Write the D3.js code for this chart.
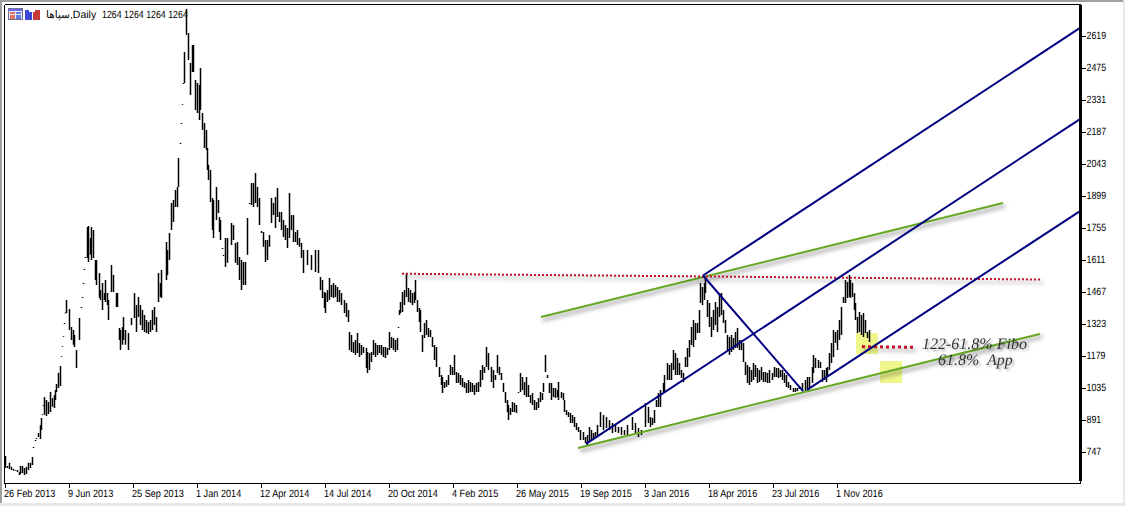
<!DOCTYPE html>
<html lang="en">

<head>
  <meta charset="UTF-8">
  <title>سپاها,Daily</title>
  <script src="https://cdn.jsdelivr.net/npm/d3@7"></script>
  <style>
    html, body { margin: 0; padding: 0; background: #fff; overflow: hidden; }
    text { font-family: "Liberation Sans", sans-serif; font-size: 10.5px; fill: #000; text-rendering: geometricPrecision; }
    .note { font-family: "Liberation Serif", serif; font-style: italic; font-size: 16px; fill: #333; }
  </style>
</head>

<body>
  <svg width="1125" height="506"></svg>

  <script>
    const dateLabels = ["26 Feb 2013", "9 Jun 2013", "25 Sep 2013", "1 Jan 2014", "12 Apr 2014", "14 Jul 2014", "20 Oct 2014",
      "4 Feb 2015", "26 May 2015", "19 Sep 2015", "3 Jan 2016", "18 Apr 2016", "23 Jul 2016", "1 Nov 2016"];
    const barsPerLabel = 64;
    const priceTicks = [747, 891, 1035, 1179, 1323, 1467, 1611, 1755, 1899, 2043, 2187, 2331, 2475, 2619];

    // bar number (counted from 26 Feb 2013), high and low
    const barIndex = [
      1, 3, 5, 7, 9, 11, 13, 15, 16, 18, 20, 22, 24, 26, 28, 29, 31, 32, 34, 36,
      37, 38, 39, 40, 42, 44, 46, 48, 50, 51, 52, 54, 56, 57, 58, 59, 60, 61, 62, 65,
      67, 69, 70, 72, 75, 77, 78, 79, 80, 81, 83, 84, 86, 87, 89, 91, 92, 95, 96, 98,
      100, 101, 103, 104, 107, 109, 112, 113, 115, 116, 118, 119, 121, 124, 127, 130, 132, 134, 136, 138,
      140, 142, 144, 146, 148, 150, 152, 154, 156, 157, 162, 163, 165, 167, 169, 171, 173, 174, 176, 177,
      178, 179, 180, 182, 184, 186, 188, 189, 191, 193, 195, 196, 198, 200, 202, 203, 204, 206, 208, 209,
      212, 214, 215, 216, 218, 219, 221, 223, 227, 229, 231, 233, 235, 237, 239, 241, 243, 245, 247, 249,
      251, 253, 255, 257, 259, 261, 263, 265, 267, 269, 271, 273, 275, 277, 279, 281, 283, 285, 287, 289,
      291, 293, 295, 297, 299, 303, 307, 311, 314, 316, 318, 320, 321, 323, 325, 327, 329, 331, 333, 335,
      337, 340, 342, 344, 345, 347, 349, 351, 353, 355, 357, 359, 362, 363, 365, 367, 369, 371, 373, 375,
      377, 379, 381, 383, 385, 387, 389, 391, 393, 394, 395, 396, 398, 400, 402, 404, 406, 408, 410, 411,
      413, 415, 416, 418, 420, 422, 424, 426, 428, 430, 432, 435, 437, 438, 440, 442, 444, 446, 448, 450,
      452, 454, 456, 458, 460, 462, 464, 466, 468, 470, 472, 474, 476, 478, 480, 482, 484, 487, 489, 491,
      493, 495, 497, 499, 501, 503, 504, 506, 508, 510, 512, 514, 516, 518, 520, 522, 524, 526, 528, 530,
      532, 534, 536, 538, 539, 541, 543, 545, 547, 549, 551, 553, 554, 557, 559, 560, 562, 564, 566, 568,
      570, 572, 574, 576, 579, 581, 583, 585, 587, 589, 591, 593, 596, 599, 602, 605, 608, 611, 614, 617,
      620, 623, 628, 631, 634, 637, 641, 644, 646, 648, 650, 652, 654, 656, 659, 660, 663, 665, 667, 669,
      671, 673, 675, 677, 679, 681, 683, 685, 687, 689, 691, 693, 695, 696, 698, 700, 701, 703, 705, 707,
      709, 711, 713, 715, 717, 719, 721, 723, 725, 727, 729, 731, 733, 735, 737, 739, 741, 743, 745, 747,
      749, 751, 753, 755, 757, 759, 761, 763, 765, 768, 770, 772, 774, 776, 778, 780, 782, 784, 786, 789,
      791, 793, 795, 798, 801, 803, 805, 808, 809, 811, 814, 816, 818, 820, 822, 823, 825, 827, 829, 831,
      833, 835, 837, 839, 841, 843, 845, 846, 848, 850, 851, 853, 855, 857, 859, 861, 863, 865
    ];
    const barHigh = [
      727, 682, 696, 678, 668, 664, 664, 655, 682, 682, 673, 678, 696, 696, 722, 767, 799, 808, 830, 866,
      898, 916, 956, 992, 979, 970, 1015, 988, 1001, 1024, 1051, 1101, 1132, 1177, 1222, 1267, 1325, 1372, 1429, 1388,
      1307, 1294, 1271, 1204, 1348, 1397, 1442, 1505, 1568, 1622, 1757, 1762, 1708, 1757, 1744, 1609, 1609, 1550, 1474, 1505,
      1460, 1519, 1460, 1429, 1586, 1541, 1460, 1460, 1303, 1294, 1307, 1352, 1294, 1280, 1348, 1460, 1406, 1442, 1406, 1384,
      1361, 1339, 1330, 1339, 1384, 1397, 1352, 1550, 1505, 1564, 1690, 1654, 1730, 1865, 1879, 1924, 1937, 2068, 2135, 2225,
      2311, 2405, 2545, 2738, 2630, 2495, 2576, 2576, 2419, 2405, 2396, 2473, 2270, 2225, 2194, 2113, 2037, 2014, 1888, 1879,
      1937, 1879, 1802, 1789, 1663, 1631, 1708, 1708, 1775, 1766, 1685, 1690, 1622, 1609, 1600, 1600, 1798, 1865, 1955, 1955,
      2000, 1937, 1888, 1739, 1735, 1699, 1699, 1721, 1888, 1865, 1892, 1933, 1825, 1825, 1789, 1766, 1753, 1910, 1811, 1811,
      1735, 1744, 1708, 1685, 1654, 1654, 1631, 1654, 1654, 1532, 1519, 1465, 1460, 1474, 1528, 1496, 1505, 1496, 1487, 1474,
      1460, 1429, 1415, 1384, 1285, 1271, 1240, 1249, 1280, 1235, 1226, 1217, 1213, 1195, 1190, 1195, 1249, 1235, 1226, 1226,
      1226, 1217, 1217, 1213, 1285, 1262, 1258, 1249, 1258, 1307, 1384, 1420, 1465, 1474, 1550, 1483, 1474, 1460, 1465, 1519,
      1429, 1393, 1384, 1271, 1325, 1339, 1303, 1294, 1262, 1226, 1217, 1127, 1091, 1082, 1060, 1069, 1091, 1136, 1127, 1181,
      1105, 1100, 1091, 1078, 1060, 1055, 1069, 1060, 1055, 1046, 1055, 1060, 1114, 1136, 1127, 1217, 1190, 1127, 1114, 1091,
      1181, 1127, 1100, 1055, 1015, 979, 956, 943, 970, 965, 956, 1015, 1100, 1082, 1060, 1082, 1046, 1001, 1010, 979,
      970, 988, 1015, 1010, 1055, 1181, 1091, 1055, 1055, 1033, 1033, 1024, 1060, 1015, 1010, 979, 934, 925, 920, 911,
      902, 875, 857, 844, 835, 812, 821, 857, 844, 830, 835, 866, 925, 911, 902, 889, 875, 866, 857, 857,
      844, 866, 902, 875, 853, 844, 965, 947, 902, 898, 934, 979, 1010, 1024, 1055, 1091, 1145, 1136, 1145, 1204,
      1190, 1168, 1145, 1114, 1100, 1172, 1213, 1249, 1307, 1339, 1325, 1325, 1384, 1505, 1487, 1505, 1528, 1429, 1415, 1352,
      1384, 1420, 1397, 1460, 1460, 1384, 1339, 1271, 1262, 1271, 1258, 1285, 1303, 1249, 1249, 1235, 1150, 1136, 1127, 1114,
      1145, 1136, 1123, 1114, 1127, 1105, 1105, 1100, 1114, 1100, 1127, 1123, 1123, 1114, 1114, 1100, 1091, 1060, 1046, 1033,
      1033, 1033, 1042, 1055, 1069, 1082, 1082, 1127, 1181, 1168, 1159, 1150, 1114, 1114, 1123, 1127, 1190, 1235, 1294, 1285,
      1294, 1339, 1397, 1442, 1519, 1510, 1541, 1519, 1505, 1460, 1415, 1352, 1375, 1361, 1370, 1339, 1285, 1294
    ];
    const barLow = [
      673, 673, 668, 664, 660, 660, 655, 641, 646, 650, 641, 646, 664, 673, 686, 763, 794, 803, 812, 803,
      844, 912, 952, 912, 907, 916, 925, 948, 943, 979, 1015, 1033, 1042, 1173, 1218, 1263, 1321, 1368, 1370, 1294,
      1249, 1227, 1217, 1123, 1249, 1393, 1438, 1501, 1564, 1618, 1618, 1600, 1632, 1609, 1618, 1519, 1496, 1438, 1429, 1384,
      1429, 1420, 1406, 1339, 1465, 1465, 1397, 1397, 1249, 1204, 1227, 1249, 1227, 1204, 1316, 1348, 1285, 1352, 1316, 1294,
      1285, 1280, 1276, 1285, 1294, 1316, 1285, 1420, 1442, 1438, 1519, 1541, 1609, 1744, 1780, 1847, 1847, 1937, 2131, 2221,
      2307, 2401, 2405, 2621, 2509, 2351, 2455, 2455, 2284, 2270, 2239, 2284, 2194, 2113, 2104, 2014, 1969, 1870, 1744, 1708,
      1789, 1820, 1735, 1699, 1658, 1627, 1577, 1596, 1676, 1699, 1596, 1586, 1519, 1474, 1496, 1496, 1632, 1861, 1856, 1847,
      1865, 1847, 1766, 1730, 1668, 1600, 1609, 1668, 1775, 1811, 1753, 1802, 1780, 1744, 1712, 1699, 1663, 1708, 1744, 1690,
      1690, 1676, 1668, 1618, 1550, 1586, 1564, 1555, 1550, 1474, 1438, 1393, 1370, 1420, 1429, 1442, 1438, 1442, 1420, 1420,
      1406, 1370, 1352, 1330, 1204, 1195, 1190, 1181, 1190, 1172, 1181, 1190, 1123, 1100, 1114, 1150, 1181, 1172, 1181, 1190,
      1181, 1172, 1168, 1181, 1204, 1213, 1204, 1195, 1204, 1303, 1361, 1370, 1375, 1406, 1442, 1420, 1415, 1406, 1415, 1429,
      1375, 1330, 1285, 1195, 1258, 1271, 1262, 1262, 1217, 1159, 1127, 1082, 1046, 1010, 1033, 1037, 1046, 1091, 1091, 1091,
      1055, 1055, 1046, 1037, 1033, 1010, 1010, 1015, 1015, 1001, 1015, 1015, 1037, 1069, 1100, 1127, 1114, 1060, 1033, 1069,
      1100, 1091, 1069, 1015, 965, 925, 889, 911, 925, 925, 920, 1010, 1015, 1024, 1001, 992, 992, 965, 956, 934,
      934, 943, 970, 979, 1015, 1105, 1078, 1010, 979, 992, 988, 992, 979, 988, 979, 925, 911, 902, 875, 875,
      857, 844, 835, 799, 799, 785, 776, 790, 799, 808, 812, 821, 857, 844, 853, 844, 830, 835, 830, 821,
      821, 821, 844, 830, 812, 821, 857, 875, 857, 866, 875, 947, 947, 947, 1015, 1010, 1069, 1069, 1069, 1114,
      1091, 1091, 1091, 1078, 1060, 1127, 1127, 1172, 1226, 1217, 1249, 1280, 1280, 1415, 1406, 1429, 1460, 1352, 1307, 1262,
      1294, 1316, 1285, 1352, 1361, 1325, 1280, 1204, 1181, 1195, 1204, 1213, 1213, 1204, 1204, 1150, 1091, 1055, 1046, 1060,
      1069, 1082, 1055, 1060, 1069, 1060, 1060, 1055, 1055, 1069, 1082, 1082, 1078, 1082, 1069, 1055, 1037, 1033, 1024, 1015,
      1015, 1019, 1028, 1019, 1015, 1024, 1033, 1055, 1100, 1123, 1123, 1123, 1060, 1069, 1060, 1091, 1114, 1145, 1172, 1235,
      1204, 1249, 1271, 1415, 1415, 1438, 1442, 1438, 1442, 1384, 1339, 1280, 1285, 1271, 1262, 1280, 1258, 1240
    ];

    // drawn objects as [bar, price] end points
    const channelUpper = [[698.5, 1539], [1075.5, 2653]];
    const channelMiddle = [[581.5, 781], [1075.5, 2243]];
    const channelLower = [[802.5, 1024], [1075.5, 1829]];
    const channelHandle = [[698.5, 1539], [798.5, 1019]];
    const greenUpper = [[536.5, 1352], [998.5, 1865]];
    const greenLower = [[573.5, 763], [1035.5, 1276]];
    const redTop = [[397.5, 1547], [1035.5, 1521]];
    const redTarget = [[857.5, 1219], [908.5, 1216]];
    const boxFibo = [[851.5, 1280], [873.5, 1186]];
    const boxApp = [[875.5, 1154], [897.5, 1055]];

    const svg = d3.select("svg");
    const width = +svg.attr("width");
    const height = +svg.attr("height");
    const plot = { left: 4.5, top: 4.5, right: 1080.5, bottom: 483.5 };

    const x = d3.scaleLinear().domain([0, 1076]).range([plot.left, plot.right]);
    const y = d3.scaleLinear().domain([747, 2619]).range([451.5, 35.5]);

    // window edges
    svg.append("rect").attr("width", width).attr("height", 2).attr("fill", "#a0a0a0");
    svg.append("rect").attr("width", 2).attr("height", height).attr("fill", "#a0a0a0");
    svg.append("rect").attr("y", 503).attr("width", width).attr("height", 3).attr("fill", "#e8e8e8");
    svg.append("rect").attr("x", 1123).attr("width", 2).attr("height", height).attr("fill", "#e8e8e8");

    const defs = svg.append("defs");
    defs.append("clipPath").attr("id", "plot-clip").append("rect")
      .attr("x", plot.left).attr("y", plot.top)
      .attr("width", plot.right - plot.left).attr("height", plot.bottom - plot.top);

    const chart = svg.append("g").attr("clip-path", "url(#plot-clip)");

    // yellow boxes sit under everything
    chart.selectAll(".box").data([boxFibo, boxApp]).enter().append("rect")
      .attr("class", "box")
      .attr("x", d => x(d[0][0]))
      .attr("y", d => y(d[0][1]))
      .attr("width", d => x(d[1][0]) - x(d[0][0]))
      .attr("height", d => y(d[1][1]) - y(d[0][1]))
      .attr("fill", "#eff78b");

    // high-low bars
    chart.append("g").selectAll("line").data(barIndex).enter().append("line")
      .attr("x1", d => x(d))
      .attr("x2", d => x(d))
      .attr("y1", (d, i) => y(barHigh[i]))
      .attr("y2", (d, i) => y(barLow[i]))
      .attr("stroke", "#000")
      .attr("stroke-width", 1.5);

    const line = d3.line().x(d => x(d[0])).y(d => y(d[1]));

    function drawLine(points, color, lineWidth, dash, withShadow) {
      const path = chart.append("path")
        .attr("d", line(points))
        .attr("fill", "none")
        .attr("stroke", color)
        .attr("stroke-width", lineWidth);
      if (dash) path.attr("stroke-dasharray", dash);
      if (withShadow) path.style("filter", "drop-shadow(2px 3px 2px rgba(0,0,0,0.5))");
    }

    drawLine(greenUpper, "#66a825", 2, null, true);
    drawLine(greenLower, "#66a825", 2, null, true);
    drawLine(redTop, "#c8102e", 2, "2 2", true);
    drawLine(redTarget, "#c8102e", 3, "3 3", true);
    [channelUpper, channelMiddle, channelLower, channelHandle].forEach(d => drawLine(d, "#000080", 2));

    // notes
    chart.append("text").attr("class", "note")
      .attr("x", x(917.5)).attr("y", y(1208))
      .style("filter", "drop-shadow(2px 2px 1px rgba(0,0,0,0.3))")
      .text("122-61.8% Fibo");
    chart.append("text").attr("class", "note")
      .attr("x", x(933.5)).attr("y", y(1136))
      .style("white-space", "pre")
      .style("filter", "drop-shadow(2px 2px 1px rgba(0,0,0,0.3))")
      .text("61.8%  App");

    // frame
    const frame = svg.append("g").attr("stroke", "#000").attr("shape-rendering", "crispEdges");
    frame.append("line").attr("x1", plot.left).attr("x2", plot.right).attr("y1", plot.top).attr("y2", plot.top);
    frame.append("line").attr("x1", plot.left).attr("x2", plot.left).attr("y1", plot.top).attr("y2", plot.bottom);
    frame.append("line").attr("x1", plot.left).attr("x2", plot.right).attr("y1", plot.bottom).attr("y2", plot.bottom);
    frame.append("line").attr("x1", plot.right).attr("x2", plot.right).attr("y1", plot.bottom - 3).attr("y2", plot.bottom);
    frame.append("line").attr("x1", plot.right).attr("x2", plot.right).attr("y1", plot.top).attr("y2", plot.bottom - 3)
      .attr("stroke-width", 3);

    // the terminal font is narrow, squeeze the label to its width
    function squeeze(selection, factor) {
      selection.each(function () {
        d3.select(this).attr("lengthAdjust", "spacingAndGlyphs")
          .attr("textLength", this.getComputedTextLength() * factor);
      });
    }

    // price axis
    const yAxis = svg.append("g").attr("transform", `translate(${plot.right},0)`)
      .call(d3.axisRight(y).tickValues(priceTicks).tickSize(5).tickPadding(1).tickFormat(d3.format("d")));
    yAxis.select(".domain").remove();
    yAxis.selectAll("line").attr("stroke", "#000").attr("shape-rendering", "crispEdges");
    yAxis.selectAll("text").style("font-size", "10.5px").style("font-family", '"Liberation Sans", sans-serif')
      .call(squeeze, 0.84);

    // date axis, labels start at the tick
    const xAxis = svg.append("g").attr("transform", `translate(0,${plot.bottom})`)
      .call(d3.axisBottom(x).tickValues(dateLabels.map((d, i) => i * barsPerLabel)).tickSize(4).tickPadding(2)
        .tickFormat((d, i) => dateLabels[i]));
    xAxis.select(".domain").remove();
    xAxis.selectAll("line").attr("stroke", "#000").attr("shape-rendering", "crispEdges");
    xAxis.selectAll("text").attr("text-anchor", "start").attr("x", -1)
      .style("font-size", "10.5px").style("font-family", '"Liberation Sans", sans-serif')
      .call(squeeze, 0.87);

    // header icons and symbol line
    const icons = svg.append("g").attr("shape-rendering", "crispEdges");
    icons.append("rect").attr("x", 8.5).attr("y", 8.5).attr("width", 14).attr("height", 11).attr("fill", "#e8e8f8").attr("stroke", "#6e6e8e");
    icons.append("rect").attr("x", 9).attr("y", 9).attr("width", 13).attr("height", 2).attr("fill", "#6a6af0");
    [12, 15, 17].forEach(v => {
      icons.append("rect").attr("x", 10).attr("y", v).attr("width", 5).attr("height", 1.5).attr("fill", "#e07060");
      icons.append("rect").attr("x", 16).attr("y", v).attr("width", 5).attr("height", 1.5).attr("fill", "#6080e0");
    });
    icons.append("rect").attr("x", 25).attr("y", 10).attr("width", 7).attr("height", 10).attr("fill", "#3a48d8");
    icons.append("rect").attr("x", 33).attr("y", 10).attr("width", 7).attr("height", 10).attr("fill", "#c83a3a");
    icons.append("rect").attr("x", 29).attr("y", 9).attr("width", 6).attr("height", 3).attr("fill", "#fff");

    svg.append("text").attr("x", 46).attr("y", 18).text("سپاها,Daily");
    svg.append("text").attr("x", 102).attr("y", 18).text("1264 1264 1264 1264").call(squeeze, 0.84);
  </script>
</body>

</html>
